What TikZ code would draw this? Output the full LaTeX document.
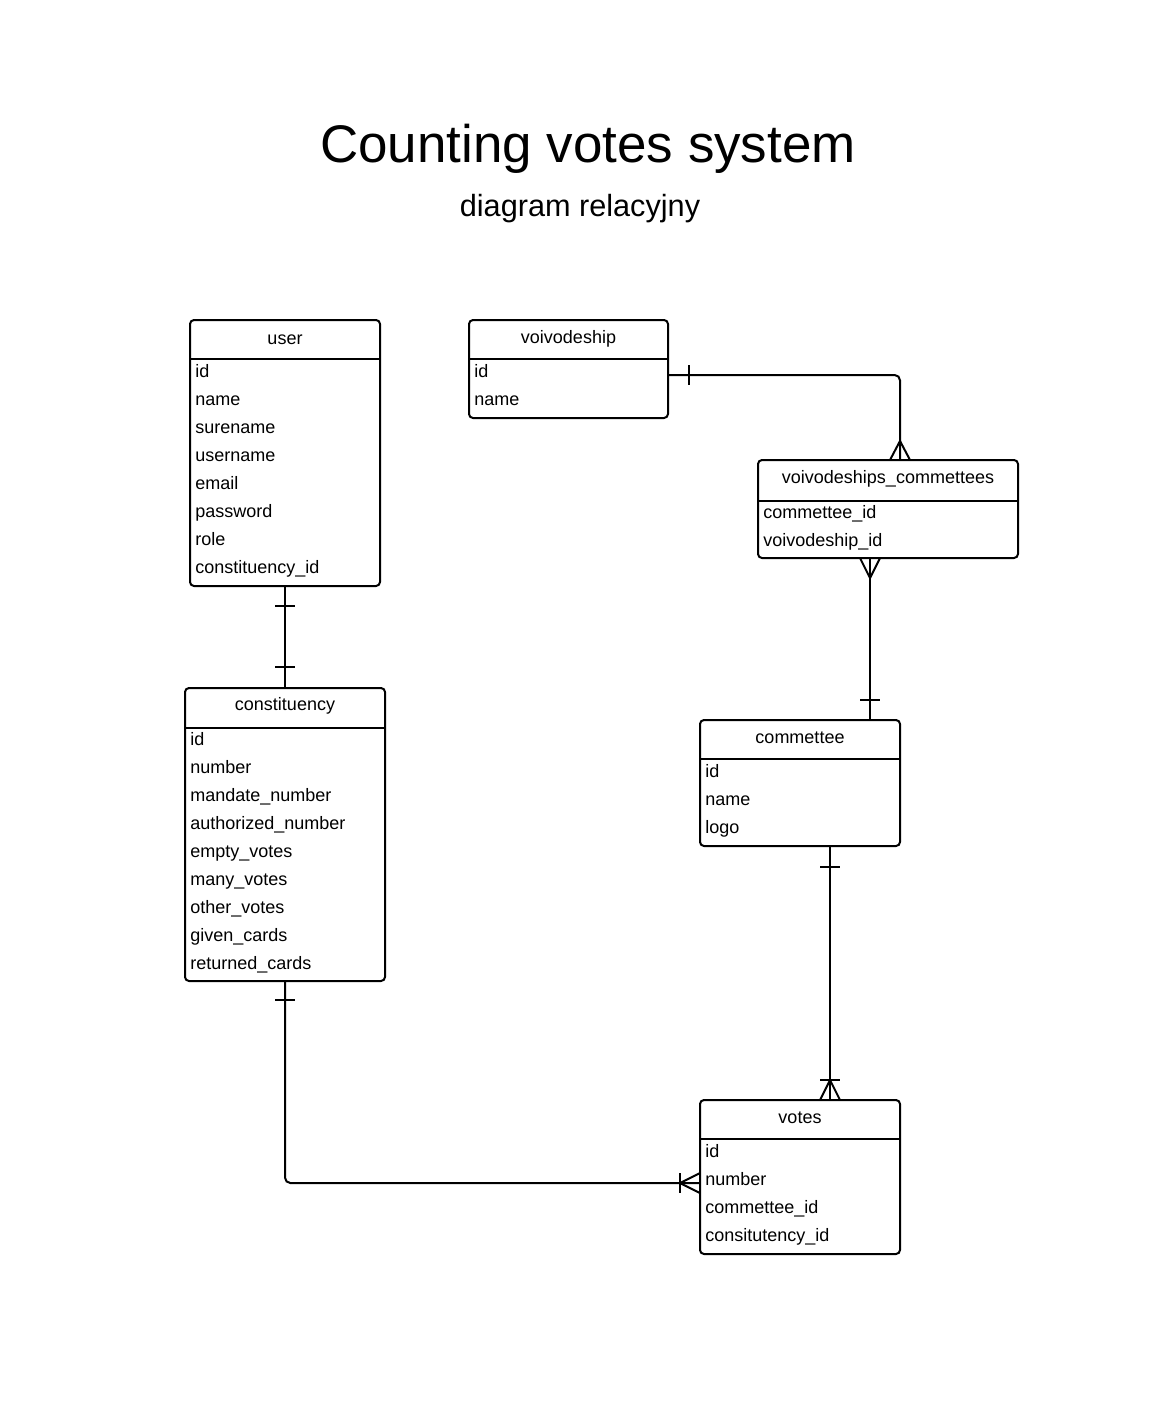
\documentclass[tikz,border=0pt]{standalone}
\usepackage{fontspec}
\setmainfont{Liberation Sans}
\usetikzlibrary{calc}
\begin{document}
\begin{tikzpicture}[x=0.75pt,y=-0.75pt,
  tbl/.style={draw, line width=1.5pt, rounded corners=3pt, inner sep=0pt, outer sep=0pt, fill=white},
  hdr/.style={anchor=base, inner sep=0pt, font=\fontsize{13.5}{16}\selectfont},
  row/.style={anchor=base west, inner sep=0pt, font=\fontsize{13.5}{16}\selectfont},
  sep/.style={line width=1.5pt},
  conn/.style={line width=1.5pt, rounded corners=4pt},
  mk/.style={line width=1.5pt}]
\useasboundingbox[fill=white] (0,0) rectangle (1176,1403);

% titles
\node[anchor=base, inner sep=0pt, font=\fontsize{39.7}{48}\selectfont] (title) at (588,162) {Counting votes system};
\node[anchor=base, inner sep=0pt, font=\fontsize{23}{28}\selectfont] (subtitle) at (580,216) {diagram relacyjny};

% tables
\node[tbl, minimum width=142.5pt, minimum height=199.5pt] (user) at (285,453) {};
\draw[sep] ($(user.north west)+(0,39)$) -- ($(user.north east)+(0,39)$);
\node[hdr] (user-h) at (285,344) {user};
\foreach \t [count=\i from 0] in {id,name,surename,username,email,password,role,constituency\_id}
  \node[row] (user-r\i) at (195,377+28*\i) {\t};

\node[tbl, minimum width=149.25pt, minimum height=73.5pt] (voivodeship) at (568.5,369) {};
\draw[sep] ($(voivodeship.north west)+(0,39)$) -- ($(voivodeship.north east)+(0,39)$);
\node[hdr] (voivodeship-h) at (568.5,343) {voivodeship};
\foreach \t [count=\i from 0] in {id,name}
  \node[row] (voivodeship-r\i) at (474,377+28*\i) {\t};

\node[tbl, minimum width=195pt, minimum height=73.5pt] (vc) at (888,509) {};
\draw[sep] ($(vc.north west)+(0,41)$) -- ($(vc.north east)+(0,41)$);
\node[hdr] (vc-h) at (888,483) {voivodeships\_commettees};
\foreach \t [count=\i from 0] in {commettee\_id,voivodeship\_id}
  \node[row] (vc-r\i) at (763,518+28*\i) {\t};

\node[tbl, minimum width=150pt, minimum height=219.75pt] (constituency) at (285,834.5) {};
\draw[sep] ($(constituency.north west)+(0,40)$) -- ($(constituency.north east)+(0,40)$);
\node[hdr] (constituency-h) at (285,710) {constituency};
\foreach \t [count=\i from 0] in {id,number,mandate\_number,authorized\_number,empty\_votes,many\_votes,other\_votes,given\_cards,returned\_cards}
  \node[row] (constituency-r\i) at (190,745+28*\i) {\t};

\node[tbl, minimum width=150pt, minimum height=94.5pt] (commettee) at (800,783) {};
\draw[sep] ($(commettee.north west)+(0,39)$) -- ($(commettee.north east)+(0,39)$);
\node[hdr] (commettee-h) at (800,743) {commettee};
\foreach \t [count=\i from 0] in {id,name,logo}
  \node[row] (commettee-r\i) at (705,777+28*\i) {\t};

\node[tbl, minimum width=150pt, minimum height=115.5pt] (votes) at (800,1177) {};
\draw[sep] ($(votes.north west)+(0,39)$) -- ($(votes.north east)+(0,39)$);
\node[hdr] (votes-h) at (800,1123) {votes};
\foreach \t [count=\i from 0] in {id,number,commettee\_id,consitutency\_id}
  \node[row] (votes-r\i) at (705,1157+28*\i) {\t};

% connectors
% voivodeship -> voivodeships_commettees
\draw[conn] ($(voivodeship.north east)+(0,55)$) -| ($(vc.north)+(12,0)$);
\draw[mk] ($(voivodeship.north east)+(21,45)$) -- ++(0,20);
\draw[mk] ($(vc.north)+(2,0)$) -- ($(vc.north)+(12,-19)$) -- ($(vc.north)+(22,0)$);

% voivodeships_commettees -> commettee
\draw[conn] ($(vc.south west)+(112,0)$) -- ($(commettee.north east)+(-30,0)$);
\draw[mk] ($(vc.south west)+(102,0)$) -- ($(vc.south west)+(112,20)$) -- ($(vc.south west)+(122,0)$);
\draw[mk] ($(commettee.north east)+(-40,-20)$) -- ++(20,0);

% user -> constituency
\draw[conn] (user.south) -- (constituency.north);
\draw[mk] ($(user.south)+(-10,20)$) -- ++(20,0);
\draw[mk] ($(constituency.north)+(-10,-21)$) -- ++(20,0);

% commettee -> votes
\draw[conn] ($(commettee.south)+(30,0)$) -- ($(votes.north)+(30,0)$);
\draw[mk] ($(commettee.south)+(20,21)$) -- ++(20,0);
\draw[mk] ($(votes.north)+(20,-20)$) -- ++(20,0);
\draw[mk] ($(votes.north)+(20,0)$) -- ($(votes.north)+(30,-20)$) -- ($(votes.north)+(40,0)$);

% constituency -> votes
\draw[conn] (constituency.south) |- ($(votes.west)+(0,6)$);
\draw[mk] ($(constituency.south)+(-10,19)$) -- ++(20,0);
\draw[mk] ($(votes.west)+(-20,-4)$) -- ++(0,20);
\draw[mk] ($(votes.west)+(0,-4)$) -- ($(votes.west)+(-20,6)$) -- ($(votes.west)+(0,16)$);
\end{tikzpicture}
\end{document}
